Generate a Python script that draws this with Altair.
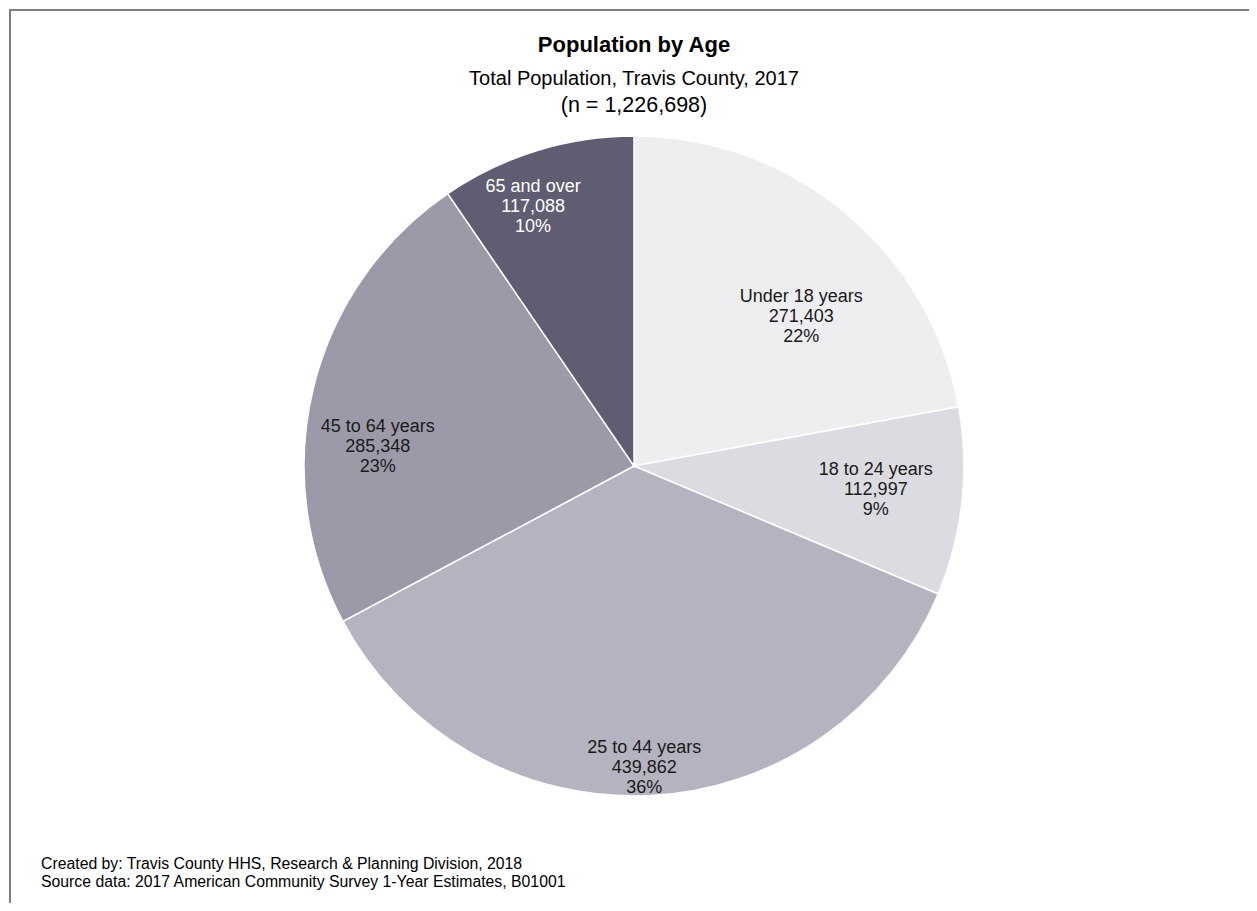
import altair as alt
import pandas as pd
import numpy as np

# ---- data ----
categories = ["Under 18 years", "18 to 24 years", "25 to 44 years", "45 to 64 years", "65 and over"]
values = [271403, 112997, 439862, 285348, 117088]
percents = ["22%", "9%", "36%", "23%", "10%"]
slice_colors = ["#eeeef1", "#dcdbe1", "#b4b3bf", "#9c9aa9", "#5f5d72"]
label_colors = ["#1a1a1a", "#1a1a1a", "#1a1a1a", "#1a1a1a", "#ffffff"]

title_lines = ["Population by Age", "Total Population, Travis County, 2017", "(n = 1,226,698)"]
footer_lines = ["Created by: Travis County HHS, Research & Planning Division, 2018",
                "Source data: 2017 American Community Survey 1-Year Estimates, B01001"]

# ---- layout ----
W, H = 1241, 895
CX, CY, R = 625, 457, 330
LH = 20
label_radius = [224, 243, 302, 257, 278]
label_angle_adj = [8.5, -0.5, 0.7, -9.6, -4.1]  # degrees, best-fit nudges

total = sum(values)
frac = np.array(values) / total
mid = (np.cumsum(frac) - frac / 2) * 360 + np.array(label_angle_adj)
rad = np.deg2rad(mid)
lx = CX + np.array(label_radius) * np.sin(rad)
ly = CY - np.array(label_radius) * np.cos(rad) - LH  # first line anchor

df = pd.DataFrame({
    "category": categories,
    "value": values,
    "order": list(range(len(categories))),
    "fill": slice_colors,
    "tcolor": label_colors,
    "label": [f"{c}\n{v:,}\n{p}" for c, v, p in zip(categories, values, percents)],
    "lx": lx,
    "ly": ly,
})

pie = alt.Chart(df).mark_arc(stroke="white", strokeWidth=1.5, outerRadius=R).encode(
    theta=alt.Theta("value:Q", stack=True),
    order=alt.Order("order:Q"),
    color=alt.Color("fill:N", scale=None),
    x=alt.value(CX),
    y=alt.value(CY),
)

labels = alt.Chart(df).mark_text(
    font="Liberation Sans", fontSize=18, lineBreak="\n", lineHeight=LH,
    align="center", baseline="middle",
).encode(
    x=alt.X("lx:Q", scale=None),
    y=alt.Y("ly:Q", scale=None),
    text="label:N",
    color=alt.Color("tcolor:N", scale=None),
)

tdf = pd.DataFrame({"t": title_lines, "y": [36, 70, 97]})
title_main = alt.Chart(tdf.iloc[[0]]).mark_text(
    font="Liberation Sans", fontSize=22, fontWeight="bold", color="#000000", align="center", baseline="middle"
).encode(x=alt.value(CX), y=alt.Y("y:Q", scale=None), text="t:N")
title_sub = alt.Chart(tdf.iloc[[1]]).mark_text(
    font="Liberation Sans", fontSize=20, color="#000000", align="center", baseline="middle"
).encode(x=alt.value(CX), y=alt.Y("y:Q", scale=None), text="t:N")
title_n = alt.Chart(tdf.iloc[[2]]).mark_text(
    font="Liberation Sans", fontSize=21.5, color="#000000", align="center", baseline="middle"
).encode(x=alt.value(CX), y=alt.Y("y:Q", scale=None), text="t:N")

fdf = pd.DataFrame({"t": footer_lines, "y": [855, 873]})
footer = alt.Chart(fdf).mark_text(
    font="Liberation Sans", fontSize=15.8, color="#000000", align="left", baseline="middle"
).encode(x=alt.value(32), y=alt.Y("y:Q", scale=None), text="t:N")

border_top = alt.Chart(pd.DataFrame({"a": [0]})).mark_rule(color="#7f7f7f", strokeWidth=2).encode(
    x=alt.value(0), x2=alt.value(W), y=alt.value(1))
border_left = alt.Chart(pd.DataFrame({"a": [0]})).mark_rule(color="#7f7f7f", strokeWidth=2).encode(
    x=alt.value(1), y=alt.value(0), y2=alt.value(H))

chart = alt.layer(border_top, border_left, pie, labels, title_main, title_sub, title_n, footer).properties(
    width=W, height=H, padding=0, background="white",
    autosize=alt.AutoSizeParams(type="fit", contains="padding"),
).configure_view(stroke="transparent", strokeWidth=0)

chart.save("out.html", embed_options={"renderer": "svg", "actions": False})
